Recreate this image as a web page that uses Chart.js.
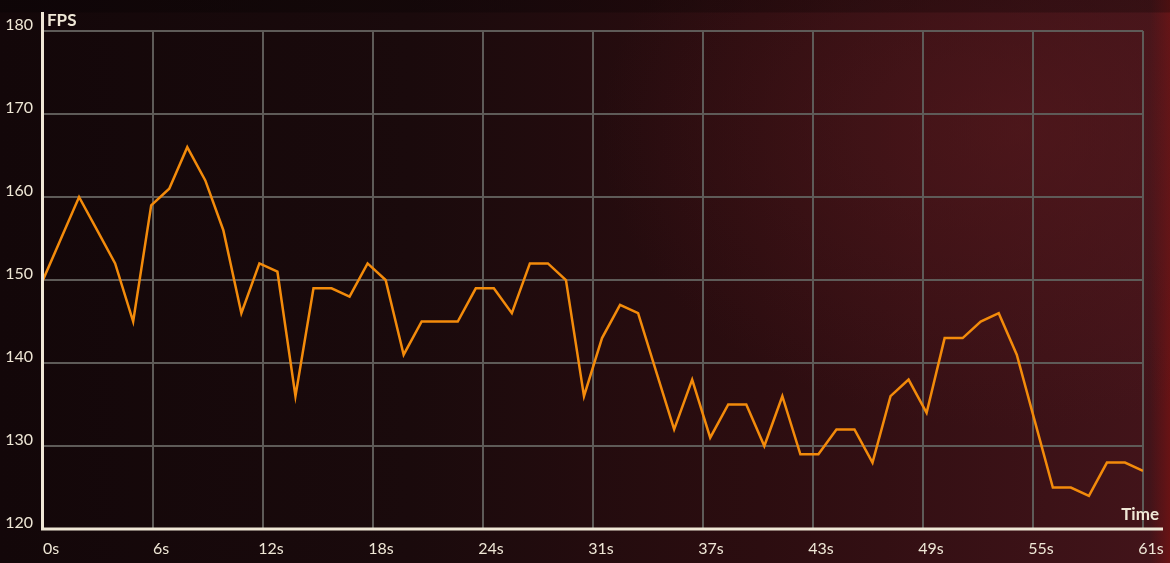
<!DOCTYPE html>
<html>
<head>
<meta charset="utf-8">
<script src="https://cdn.jsdelivr.net/npm/chart.js@4.4.1/dist/chart.umd.min.js"></script>
<style>
  html, body { margin: 0; padding: 0; }
  body {
    width: 1170px; height: 563px; overflow: hidden;
    background:
      linear-gradient(to bottom, rgba(0,0,0,0.25) 0px, rgba(0,0,0,0.25) 12px, rgba(0,0,0,0) 13px),
      radial-gradient(ellipse 420px 300px at 1020px 130px, rgba(90,26,30,0.55), rgba(90,26,30,0) 100%),
      linear-gradient(to right, rgba(0,0,0,0) 0px, rgba(0,0,0,0) 1150px, rgba(120,18,18,0.7) 1170px),
      linear-gradient(to right, #130709 0%, #1a0a0c 35%, #2c0d10 65%, #43141a 100%);
  }
  #wrap { position: absolute; left: 0; top: 0; width: 1170px; height: 563px; }
</style>
</head>
<body>
<div id="wrap"><canvas id="c" width="1170" height="563"></canvas></div>
<script>
// ---- data ----
const timeSeconds = [0,1,2,3,4,5,6,7,8,9,10,11,12,13,14,15,16,17,18,19,20,21,22,23,24,25,26,27,28,29,30,
                     31,32,33,34,35,36,37,38,39,40,41,42,43,44,45,46,47,48,49,50,51,52,53,54,55,56,57,58,59,60,61];
const fpsValues = [150,155,160,156,152,145,159,161,166,162,156,146,152,151,136,149,149,148,152,150,141,
                   145,145,145,149,149,146,152,152,150,136,143,147,146,139,132,138,131,135,135,130,136,
                   129,129,132,132,128,136,138,134,143,143,145,146,141,133,125,125,124,128,128,127];
const xTickValues = [0,6.1,12.2,18.3,24.4,30.5,36.6,42.7,48.8,54.9,61];
const xTickLabels = ['0s','6s','12s','18s','24s','31s','37s','43s','49s','55s','61s'];
const yTickValues = [120,130,140,150,160,170,180];
const yAxisTitle = 'FPS';
const xAxisTitle = 'Time';

const cream = '#efe7d6';
const gridCol = '#5e5b58';
const fontFam = 'Lato, "Open Sans", sans-serif';

const axisPlugin = {
  id: 'axisPlugin',
  afterDraw(chart) {
    const ctx = chart.ctx, a = chart.chartArea;
    ctx.save();
    ctx.strokeStyle = cream;
    ctx.lineWidth = 3;
    ctx.beginPath();
    ctx.moveTo(a.left - 0.5, a.top - 19);
    ctx.lineTo(a.left - 0.5, a.bottom + 1.5);
    ctx.moveTo(a.left - 2, a.bottom);
    ctx.lineTo(a.right + 20, a.bottom);
    ctx.stroke();
    ctx.fillStyle = cream;
    ctx.font = 'bold 17px ' + fontFam;
    ctx.textBaseline = 'middle';
    ctx.textAlign = 'left';
    ctx.fillText(yAxisTitle, a.left + 4, a.top - 10);
    ctx.textAlign = 'right';
    ctx.fillText(xAxisTitle, a.right + 16, a.bottom - 14);
    ctx.restore();
  }
};

new Chart(document.getElementById('c'), {
  type: 'line',
  data: {
    datasets: [{
      data: timeSeconds.map((t, i) => ({ x: t, y: fpsValues[i] })),
      borderColor: '#f38b0b',
      borderWidth: 2.5,
      pointRadius: 0,
      tension: 0,
      fill: false
    }]
  },
  options: {
    responsive: false,
    animation: false,
    layout: { padding: { left: 6, right: 27, top: 31, bottom: 0 } },
    plugins: { legend: { display: false }, tooltip: { enabled: false } },
    scales: {
      x: {
        type: 'linear', min: 0, max: 61,
        afterBuildTicks: s => { s.ticks = xTickValues.map(v => ({ value: v })); },
        afterFit: s => { s.height = 34; },
        border: { display: false },
        grid: { color: gridCol, lineWidth: 2, drawTicks: false },
        ticks: {
          color: cream, font: { family: fontFam, size: 16 }, padding: 10,
          maxRotation: 0, autoSkip: false, labelOffset: 8,
          callback: (v, i) => xTickLabels[i]
        }
      },
      y: {
        type: 'linear', min: 120, max: 180,
        afterBuildTicks: s => { s.ticks = yTickValues.map(v => ({ value: v })); },
        afterFit: s => { s.width = 37; },
        border: { display: false },
        grid: { color: gridCol, lineWidth: 2, drawTicks: false },
        ticks: {
          color: cream, font: { family: fontFam, size: 16 }, padding: 10,
          labelOffset: -6
        }
      }
    }
  },
  plugins: [axisPlugin]
});
</script>
</body>
</html>
